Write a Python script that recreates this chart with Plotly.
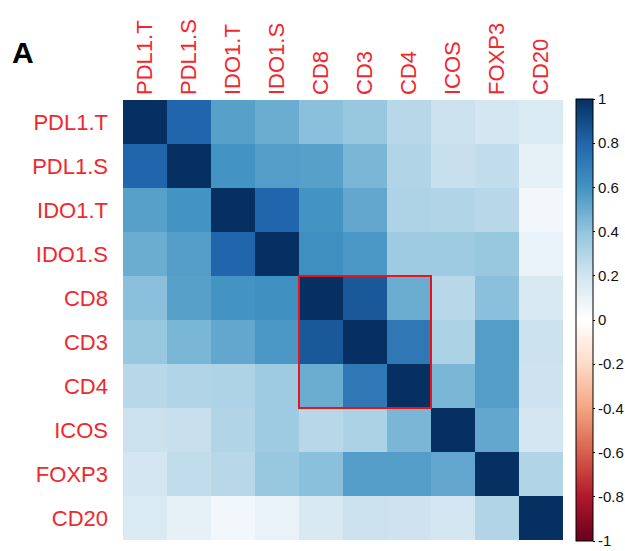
import plotly.graph_objects as go

# Markers in the correlation matrix
markers = ["PDL1.T", "PDL1.S", "IDO1.T", "IDO1.S", "CD8", "CD3", "CD4", "ICOS", "FOXP3", "CD20"]

# Pairwise correlation coefficients (rows follow the marker order)
corr_pdl1_t = [1.00, 0.80, 0.55, 0.50, 0.42, 0.38, 0.28, 0.22, 0.19, 0.16]
corr_pdl1_s = [0.80, 1.00, 0.60, 0.56, 0.55, 0.46, 0.30, 0.23, 0.25, 0.11]
corr_ido1_t = [0.55, 0.60, 1.00, 0.80, 0.60, 0.52, 0.31, 0.30, 0.28, 0.06]
corr_ido1_s = [0.50, 0.56, 0.80, 1.00, 0.62, 0.58, 0.36, 0.36, 0.38, 0.10]
corr_cd8 = [0.42, 0.55, 0.60, 0.62, 1.00, 0.85, 0.50, 0.28, 0.42, 0.17]
corr_cd3 = [0.38, 0.46, 0.52, 0.58, 0.85, 1.00, 0.72, 0.32, 0.56, 0.22]
corr_cd4 = [0.28, 0.30, 0.31, 0.36, 0.50, 0.72, 1.00, 0.46, 0.56, 0.21]
corr_icos = [0.22, 0.23, 0.30, 0.36, 0.28, 0.32, 0.46, 1.00, 0.52, 0.19]
corr_foxp3 = [0.19, 0.25, 0.28, 0.38, 0.42, 0.56, 0.56, 0.52, 1.00, 0.30]
corr_cd20 = [0.16, 0.11, 0.06, 0.10, 0.17, 0.22, 0.21, 0.19, 0.30, 1.00]

corr = [corr_pdl1_t, corr_pdl1_s, corr_ido1_t, corr_ido1_s, corr_cd8,
        corr_cd3, corr_cd4, corr_icos, corr_foxp3, corr_cd20]

# Highlighted T-cell block
block = ["CD8", "CD3", "CD4"]

colorbar_ticks = [1, 0.8, 0.6, 0.4, 0.2, 0, -0.2, -0.4, -0.6, -0.8, -1]

rdbu = ["#67001F", "#B2182B", "#D6604D", "#F4A582", "#FDDBC7", "#FFFFFF",
        "#D1E5F0", "#92C5DE", "#4393C3", "#2166AC", "#053061"]
colorscale = [[i / (len(rdbu) - 1), c] for i, c in enumerate(rdbu)]

fig = go.Figure(go.Heatmap(
    z=corr, x=markers, y=markers,
    zmin=-1, zmax=1, colorscale=colorscale,
    xgap=0, ygap=0,
    colorbar=dict(
        x=1.0295, xanchor="left", y=0.5, yanchor="middle",
        len=1.005, lenmode="fraction", thickness=17,
        outlinecolor="black", outlinewidth=1,
        xpad=0, ypad=0,
        tickvals=colorbar_ticks, ticktext=[f"{v:g}" for v in colorbar_ticks],
        ticks="outside", ticklen=2, tickcolor="black",
        tickfont=dict(family="Liberation Sans, Arial", size=15, color="#111"),
    ),
))

i0 = markers.index(block[0])
i1 = markers.index(block[-1])
fig.add_shape(type="rect", xref="x", yref="y",
              x0=i0 - 0.5, x1=i1 + 0.5, y0=i0 - 0.5, y1=i1 + 0.5,
              line=dict(color="#E8141C", width=2), fillcolor="rgba(0,0,0,0)")

fig.add_annotation(text="<b>A</b>", xref="paper", yref="paper",
                   x=-0.257, y=1.109, xanchor="left", yanchor="middle",
                   showarrow=False,
                   font=dict(family="Liberation Sans, Arial", size=30, color="black"))

label_font = dict(family="Liberation Sans, Arial", size=22, color="#F0282D")
fig.update_xaxes(side="top", tickangle=-90, tickfont=label_font,
                 showgrid=False, zeroline=False, ticks="", ticklabelstandoff=4)
fig.update_yaxes(autorange="reversed", tickfont=label_font,
                 showgrid=False, zeroline=False, ticks="", ticklabelstandoff=14)

fig.update_layout(
    width=625, height=551,
    margin=dict(l=123, r=62, t=100, b=11, autoexpand=False),
    paper_bgcolor="white", plot_bgcolor="white",
)

fig.write_html("out.html")
